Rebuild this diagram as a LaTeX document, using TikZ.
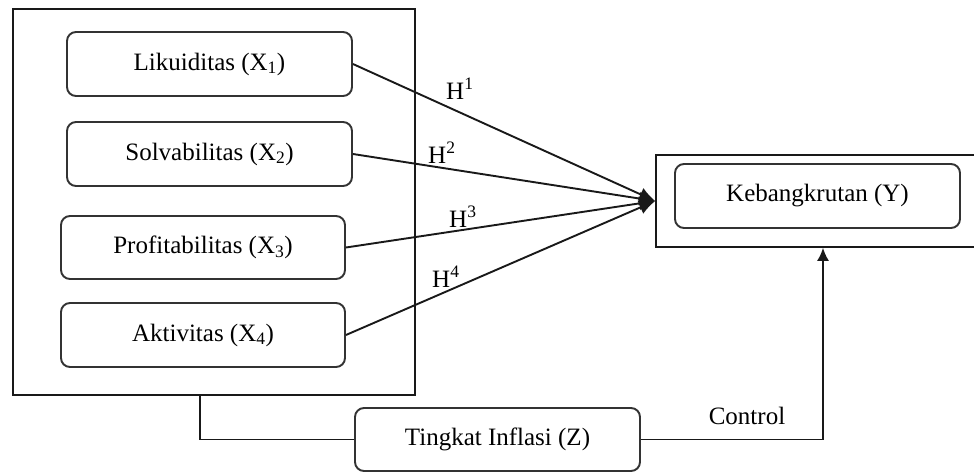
\documentclass[tikz,border=0pt]{standalone}
\usepackage{fontspec}
\setmainfont{Liberation Serif}
\usetikzlibrary{arrows.meta,calc}
\begin{document}
\begin{tikzpicture}[x=1pt,y=-1pt,
  font=\fontsize{25}{29}\selectfont,
  frame/.style={draw=black!90, line width=1.6pt, inner sep=0pt},
  varbox/.style={draw=black!80, line width=1.9pt, rounded corners=9pt,
    minimum width=285pt, minimum height=64pt, inner sep=0pt},
  hlabel/.style={anchor=base west, inner sep=0pt},
  link/.style={line width=1.9pt, draw=black!90},
  bigtip/.style={-{Latex[length=16pt,width=14pt]}},
  smalltip/.style={-{Latex[length=13pt,width=12pt]}}]
\useasboundingbox (0,0) rectangle (974,474);
% outer frames
\node[frame, minimum width=402pt, minimum height=386pt] (xbox) at (214,202) {};
\node[frame, minimum width=334pt, minimum height=92pt] (ybox) at (823,201) {};
% variable boxes
\node[varbox] (x1) at (209.5,64) {Likuiditas (X\textsubscript{1})};
\node[varbox] (x2) at (209.5,154) {Solvabilitas (X\textsubscript{2})};
\node[varbox, minimum width=284pt, minimum height=63pt] (x3) at (203,247.5) {Profitabilitas (X\textsubscript{3})};
\node[varbox, minimum width=284pt] (x4) at (203,335) {Aktivitas (X\textsubscript{4})};
\node[varbox] (y) at (817.5,196) {Kebangkrutan (Y)};
\node[varbox, minimum height=63pt] (z) at (497.5,439.5) {Tingkat Inflasi (Z)};
% hypothesis arrows
\draw[link, bigtip] (x1.east) -- (ybox.west);
\draw[link, bigtip] (x2.east) -- (ybox.west);
\draw[link, bigtip] (x3.east) -- (ybox.west);
\draw[link, bigtip] (x4.east) -- (ybox.west);
\node[hlabel] (h1) at (446,99) {H\textsuperscript{1}};
\node[hlabel] (h2) at (428,163) {H\textsuperscript{2}};
\node[hlabel] (h3) at (449,227) {H\textsuperscript{3}};
\node[hlabel] (h4) at (432,287) {H\textsuperscript{4}};
% control path
\coordinate (xdrop) at (200,395);
\draw[link] (xdrop) |- (z.west);
\draw[link, smalltip] (z.east) -| (ybox.south);
\node (ctl) at (747,416) {Control};
\end{tikzpicture}
\end{document}
